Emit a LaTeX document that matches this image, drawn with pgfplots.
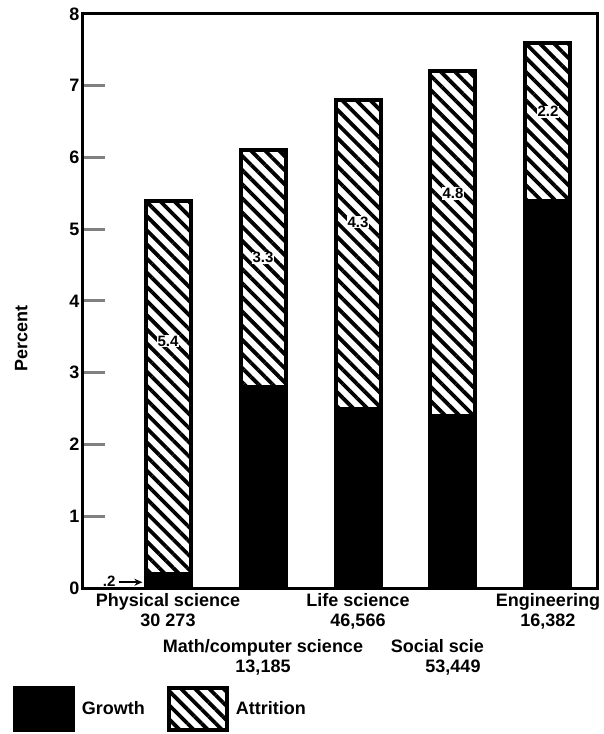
\documentclass[border=0pt]{standalone}
\usepackage{fontspec}
\setmainfont{Liberation Sans}
\usepackage{pgfplots}
\pgfplotsset{compat=1.18}
\usepackage{pgfplotstable}
\usetikzlibrary{patterns.meta,arrows.meta}

% growth / attrition in percent; shift = label offset from segment middle (pt)
\pgfplotstableread{
x growth attrition shift label
0 0.2 5.2 46 5.4
1 2.8 3.3 11 3.3
2 2.5 4.3 32 4.3
3 2.4 4.8 50 4.8
4 5.4 2.2 10 2.2
}\datatable

\tikzset{hatch/.style={pattern={Lines[angle=-45,distance=10pt,line width=3.8pt]},pattern color=black}}
\newcommand{\lbl}{\fontsize{18}{20}\selectfont\bfseries}

\begin{document}
\begin{tikzpicture}[font=\bfseries]
\useasboundingbox (-83pt,-146pt) rectangle (521pt,588pt);
\begin{axis}[
  at={(0,0)}, anchor=south west,
  scale only axis, width=514pt, height=574pt,
  xmin=-0.895, xmax=4.516, ymin=0, ymax=8,
  ybar stacked, bar width=45pt,
  clip=false,
  axis line style={line width=3pt},
  ytick={0,...,8}, ytick pos=left, tick align=inside,
  major tick length=22pt,
  ytick style={line width=3pt},
  yticklabel style={font=\lbl},
  /pgf/number format/assume math mode=true,
  ylabel={Percent},
  ylabel style={font=\lbl, at={(axis description cs:-0.12,0.435)}, anchor=center},
  xtick={0,2,4},
  xticklabels={{Physical science\\30 273},{Life science\\46,566},{Engineering\\16,382}},
  xticklabel style={align=center, font=\lbl, yshift=-2pt},
  xtick style={draw=none},
  extra x ticks={1,3},
  extra x tick labels={{Math/computer science\\13,185},{Social scie\phantom{nce}\\53,449}},
  extra x tick style={tick style={draw=none}, tick label style={yshift=-46pt}},
  legend style={at={(axis description cs:-0.1362,-0.17)}, anchor=north west, draw=none, fill=none,
    inner sep=0pt, outer sep=0pt, nodes={inner sep=0pt},
    legend columns=2, font=\lbl,
    /tikz/every odd column/.append style={column sep=7pt},
    /tikz/every even column/.append style={column sep=22pt}},
  legend image code/.code={\draw[#1] (2pt,-21pt) rectangle (60pt,21pt);},
]
\addplot[fill=black, draw=black, line width=4pt] table[x=x,y=growth]{\datatable};
\addlegendentry{Growth}
\addplot[hatch, draw=black, line width=4pt,
  point meta=explicit symbolic,
  visualization depends on={\thisrow{shift} \as \myshift},
  nodes near coords,
  every node near coord/.append style={anchor=center, yshift=\myshift pt, fill=white, inner sep=0.8pt,
    font=\fontsize{15}{15}\selectfont\bfseries}]
  table[x=x,y=attrition,meta=label]{\datatable};
\addlegendentry{Attrition}
\node[font=\fontsize{15}{15}\selectfont\bfseries] at (axis cs:-0.62,0.1) {.2};
\draw[-{Stealth[length=8pt,width=7pt]}, line width=2pt] (axis cs:-0.52,0.08) -- (axis cs:-0.27,0.08);
\end{axis}
\end{tikzpicture}
\end{document}
